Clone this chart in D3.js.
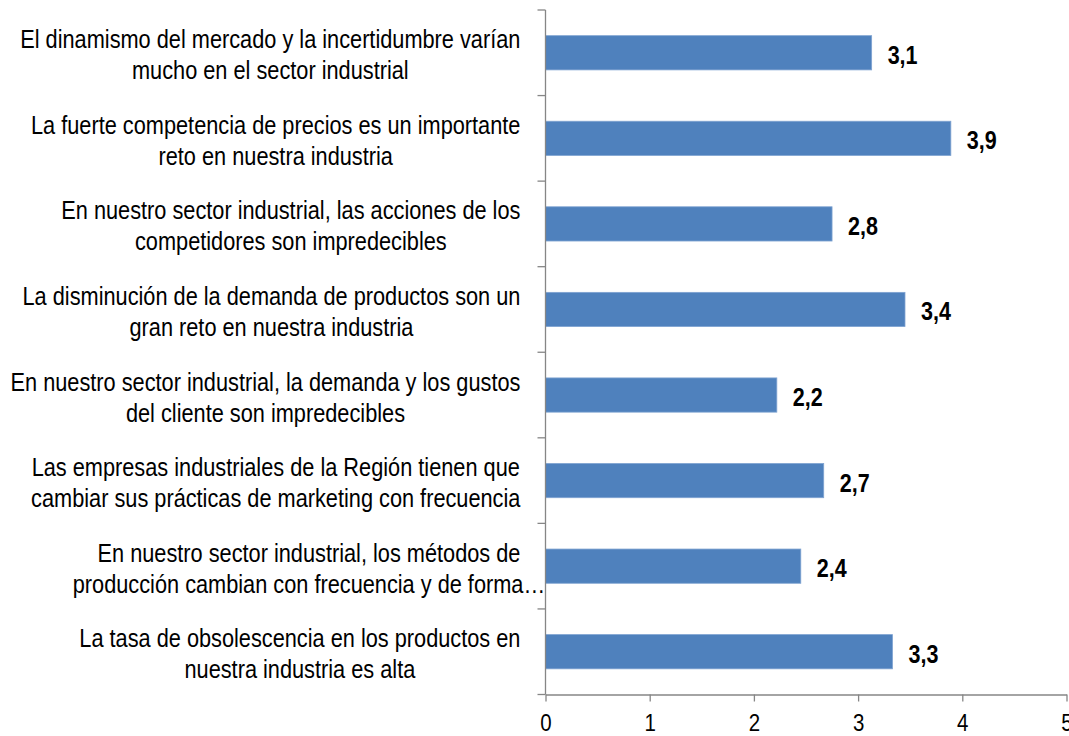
<!DOCTYPE html>
<html>
<head>
<meta charset="utf-8">
<script src="https://cdn.jsdelivr.net/npm/d3@7"></script>
<style>
html,body{margin:0;padding:0;background:#fff;}
svg{display:block;}
</style>
</head>
<body>
<svg id="chart" width="1069" height="736"></svg>
<script>
const categories = [
  ["El dinamismo del mercado y la incertidumbre varían", "mucho en el sector industrial"],
  ["La fuerte competencia de precios es un importante", "reto en nuestra industria"],
  ["En nuestro sector industrial, las acciones de los", "competidores son impredecibles"],
  ["La disminución de la demanda de productos son un", "gran reto en nuestra industria"],
  ["En nuestro sector industrial, la demanda y los gustos", "del cliente son impredecibles"],
  ["Las empresas industriales de la Región tienen que", "cambiar sus prácticas de marketing con frecuencia"],
  ["En nuestro sector industrial, los métodos de", "producción cambian con frecuencia y de forma…"],
  ["La tasa de obsolescencia en los productos en", "nuestra industria es alta"]
];
const values = [3.13, 3.89, 2.75, 3.45, 2.22, 2.67, 2.45, 3.33];
const valueLabels = ["3,1", "3,9", "2,8", "3,4", "2,2", "2,7", "2,4", "3,3"];
const xTicks = [0, 1, 2, 3, 4, 5];

const svg = d3.select("#chart");
const x0 = 545.5, x1 = 1066.5, yTop = 10, yBot = 694.5;
const gray = "#868686";
const fontNarrow = "'Liberation Sans Narrow','Arial Narrow','Liberation Sans',Arial,sans-serif";

// Detect narrow font availability (compare against a monospace fallback)
const probeText = "El dinamismo del mercado";
const p1 = svg.append("text").attr("font-family", "'Liberation Sans Narrow',monospace").attr("font-size", 25).text(probeText);
const p2 = svg.append("text").attr("font-family", "monospace").attr("font-size", 25).text(probeText);
const narrowOK = Math.abs(p1.node().getComputedTextLength() - p2.node().getComputedTextLength()) > 2;
p1.remove(); p2.remove();
const sx = narrowOK ? 1 : 0.82;
const sxLab = sx * 1.04;

const ids = categories.map((c, i) => "c" + i);
const x = d3.scaleLinear().domain([0, 5]).range([x0, x1]);
const y = d3.scaleBand().domain(ids).range([yTop, yBot]).paddingInner(0.6).paddingOuter(0.3);
const step = y.step();

// bars
svg.append("g").selectAll("rect").data(values).join("rect")
  .attr("x", x(0))
  .attr("y", (d, i) => y(ids[i]))
  .attr("width", d => x(d) - x(0))
  .attr("height", y.bandwidth())
  .attr("fill", "#4F81BD")
  .attr("stroke", "#7FA3D1")
  .attr("stroke-width", 0.8);

// value labels
svg.append("g").selectAll("text").data(values).join("text")
  .attr("transform", (d, i) => `translate(${x(d) + 16},${y(ids[i]) + y.bandwidth() / 2 + 11}) scale(${sx * 1.03},1)`)
  .attr("font-family", fontNarrow)
  .attr("font-weight", "bold")
  .attr("font-size", 25.5)
  .attr("fill", "#000")
  .text((d, i) => valueLabels[i]);

// y axis line + boundary ticks
const yAxisG = svg.append("g").attr("stroke", gray).attr("stroke-width", 1.3);
yAxisG.append("line").attr("x1", x(0)).attr("x2", x(0)).attr("y1", yTop).attr("y2", yBot);
const bounds = ids.map(id => y(id) - y.paddingInner() * step / 2).concat([yBot]);
yAxisG.selectAll(".tk").data(bounds).join("line")
  .attr("x1", x(0) - 8).attr("x2", x(0)).attr("y1", d => d).attr("y2", d => d);

// x axis
const xAxis = d3.axisBottom(x).tickValues(xTicks).tickSize(7).tickSizeOuter(0).tickFormat(d3.format("d"));
const xg = svg.append("g").attr("transform", `translate(0,${yBot})`).call(xAxis);
xg.select(".domain").attr("stroke", gray).attr("stroke-width", 1.3);
xg.selectAll(".tick line").attr("stroke", gray).attr("stroke-width", 1.3);
xg.selectAll(".tick text")
  .attr("font-family", fontNarrow)
  .attr("font-size", 24)
  .attr("fill", "#000")
  .attr("y", 0).attr("dy", 0)
  .attr("transform", `translate(0,36.5) scale(${sxLab},1)`);

// category labels (two centered lines, block right-aligned; truncated lines overflow)
const rightEdge = 520.5;
const lg = svg.append("g");
categories.forEach((lines, i) => {
  const cy = y(ids[i]) + y.bandwidth() / 2;
  const g = lg.append("g");
  const texts = lines.map((t) => g.append("text")
    .attr("font-family", fontNarrow)
    .attr("font-size", 25.5)
    .attr("fill", "#000")
    .attr("text-anchor", "middle")
    .text(t));
  const full = texts.filter((t, k) => !lines[k].endsWith("…"));
  const maxW = d3.max(full.length ? full : texts, t => t.node().getComputedTextLength()) * sxLab;
  const cx = rightEdge - maxW / 2;
  texts.forEach((t, k) => {
    t.attr("transform", `translate(${cx},${cy - 4.5 + k * 31}) scale(${sxLab},1)`);
  });
});
</script>
</body>
</html>
